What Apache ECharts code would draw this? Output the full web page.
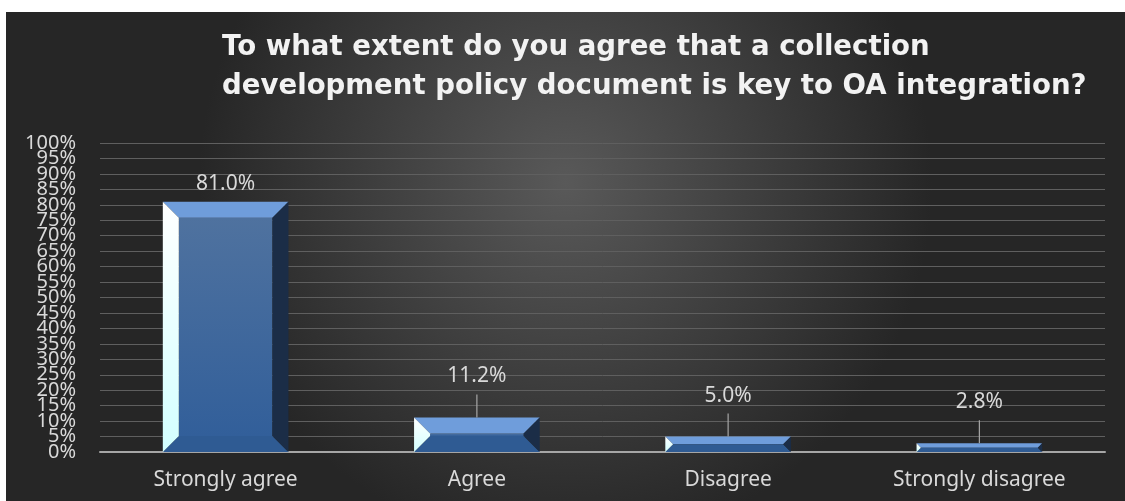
<!DOCTYPE html>
<html>
<head>
<meta charset="utf-8">
<script src="https://cdn.jsdelivr.net/npm/echarts@6/dist/echarts.min.js"></script>
<style>
  html, body { margin: 0; padding: 0; background: #fff; }
  #chart { position: absolute; left: 6px; top: 12px; width: 1119px; height: 489px; }
</style>
</head>
<body>
<div id="chart"></div>
<script>
const categories = ['Strongly agree', 'Agree', 'Disagree', 'Strongly disagree']
const values = [81.0, 11.2, 5.0, 2.8]
const titleLines = [
  'To what extent do you agree that a collection',
  'development policy document is key to OA integration?'
]
// tick labels split in two sets so the tightly packed labels are not dropped
const yTicksTens = [0, 10, 20, 30, 40, 50, 60, 70, 80, 90, 100]
const yTicksFives = [5, 15, 25, 35, 45, 55, 65, 75, 85, 95]

const chart = echarts.init(document.getElementById('chart'))

function renderBevelBar(params, api) {
  const v = api.value(1)
  const top = api.coord([api.value(0), v])
  const base = api.coord([api.value(0), 0])
  const w = api.size([1, 0])[0] * 0.5
  const x0 = top[0] - w / 2, x1 = top[0] + w / 2
  const y0 = top[1], y1 = base[1]
  const b = Math.min(16, (y1 - y0) / 2)
  const poly = (pts, fill) => ({ type: 'polygon', shape: { points: pts }, style: { fill } })
  const lbl = v.toFixed(1) + '%'
  const small = v < 20
  const children = [
    {
      type: 'rect',
      shape: { x: x0 + b, y: y0 + b, width: w - 2 * b, height: Math.max(0, y1 - y0 - 2 * b) },
      style: { fill: new echarts.graphic.LinearGradient(0, 0, 0, 1, [
        { offset: 0, color: '#4f729f' }, { offset: 1, color: '#325f9a' }]) }
    },
    poly([[x0, y0], [x1, y0], [x1 - b, y0 + b], [x0 + b, y0 + b]], '#6f9ddb'),
    poly([[x0, y1], [x1, y1], [x1 - b, y1 - b], [x0 + b, y1 - b]], '#2f5b93'),
    poly([[x0, y0], [x0 + b, y0 + b], [x0 + b, y1 - b], [x0, y1]],
      new echarts.graphic.LinearGradient(0, 0, 0, 1, [
        { offset: 0, color: '#ffffff' }, { offset: 1, color: '#d2ffff' }])),
    poly([[x1, y0], [x1, y1], [x1 - b, y1 - b], [x1 - b, y0 + b]], '#1b2d47'),
    {
      type: 'text',
      style: {
        x: top[0], y: y0 - (small ? 41 : 18), text: lbl,
        fill: '#d9d9d9', font: '21px "Noto Sans"', align: 'center', verticalAlign: 'middle'
      }
    }
  ]
  if (small) {
    children.push({
      type: 'line',
      shape: { x1: top[0], y1: y0 - 23, x2: top[0], y2: y0 },
      style: { stroke: '#a6a6a6', lineWidth: 1.2 }
    })
  }
  return { type: 'group', children }
}

const yLabel = {
  formatter: '{value}%', color: '#d9d9d9', fontFamily: 'Noto Sans',
  fontSize: 20, margin: 24, hideOverlap: false
}

chart.setOption({
  backgroundColor: new echarts.graphic.RadialGradient(0.5, 0.35, 0.75, [
    { offset: 0, color: '#595959' }, { offset: 1, color: '#262626' }]),
  title: {
    text: titleLines.join('\n'),
    left: 211,
    top: 11,
    textStyle: {
      color: '#f2f2f2', fontFamily: 'DejaVu Sans', fontWeight: 'bold',
      fontSize: 27.6, lineHeight: 39
    }
  },
  grid: { left: 94, right: 20, top: 131, bottom: 49 },
  xAxis: {
    type: 'category',
    data: categories,
    axisLine: { lineStyle: { color: '#a6a6a6', width: 2 } },
    axisTick: { show: false },
    axisLabel: { color: '#d9d9d9', fontFamily: 'Noto Sans', fontSize: 21, margin: 18 }
  },
  yAxis: [
    {
      type: 'value', position: 'left',
      min: 0, max: 100, interval: 5,
      axisLine: { show: false },
      axisTick: { show: false },
      axisLabel: Object.assign({ customValues: yTicksTens }, yLabel),
      splitLine: { lineStyle: { color: '#5f5f5f', width: 1 } }
    },
    {
      type: 'value', position: 'left', offset: 0,
      min: 0, max: 100, interval: 5,
      axisLine: { show: false },
      axisTick: { show: false },
      axisLabel: Object.assign({ customValues: yTicksFives }, yLabel),
      splitLine: { show: false }
    }
  ],
  series: [{
    type: 'custom',
    renderItem: renderBevelBar,
    data: values.map((v, i) => [i, v]),
    encode: { x: 0, y: 1 }
  }]
})
</script>
</body>
</html>
